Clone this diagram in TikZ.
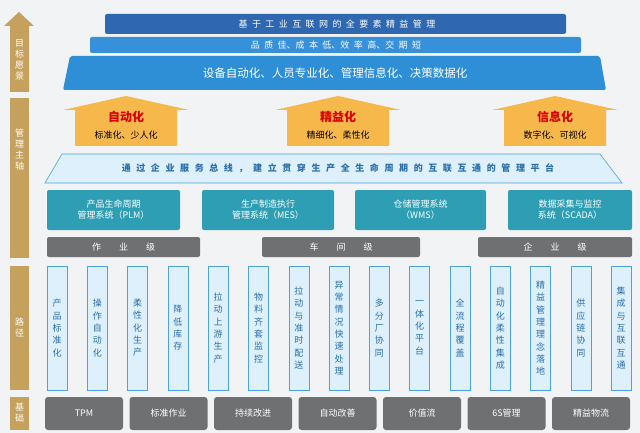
\documentclass[tikz,border=0pt]{standalone}
\usepackage{fontspec}
\setmainfont{Noto Sans CJK SC}
\usetikzlibrary{positioning}
\definecolor{bg}{HTML}{F2F3F5}
\definecolor{gold}{HTML}{C6A15E}
\definecolor{navy}{HTML}{2F68B0}
\definecolor{midblue}{HTML}{3790DA}
\definecolor{skyblue}{HTML}{2E8ED6}
\definecolor{orng}{HTML}{F6B84A}
\definecolor{paleblue}{HTML}{DDF0FB}
\definecolor{lineblue}{HTML}{4AA3DB}
\definecolor{txtblue}{HTML}{2B6FA8}
\definecolor{teal}{HTML}{2E9EB4}
\definecolor{slate}{HTML}{6F7072}
\tikzset{
  goldbar/.style={fill=gold,draw=none},
  sidetext/.style={text=white,font=\small,align=center,inner sep=0pt},
  sysbox/.style={fill=teal,rounded corners=2pt,text=white,font=\small,align=center,minimum height=40pt},
  levelbox/.style={fill=slate,rounded corners=2pt,text=white,font=\small,minimum height=20pt},
  pathbox/.style={fill=paleblue,draw=lineblue,line width=0.6pt,minimum width=20pt,minimum height=124pt,
                  text=txtblue,font=\small\linespread{1.12}\selectfont,align=center,inner sep=0pt},
  basebox/.style={fill=slate,rounded corners=3pt,text=white,font=\small,minimum width=78pt,minimum height=33pt},
}
\newcommand\gap{\hspace{4.4pt}}
\newcommand\busgap{\hspace{5.6pt}}
\begin{document}
\begin{tikzpicture}[x=1pt,y=-1pt]
\fill[bg] (0,0) rectangle (640,433);
\useasboundingbox (0,0) rectangle (640,433);
% left axis
\fill[goldbar] (4,26) -- (19,12) -- (34,26) -- (29,26) -- (29,92) -- (10,92) -- (10,26) -- cycle;
\node[sidetext] (goal) at (19.5,60) {目\\标\\愿\\景};
\fill[goldbar] (10,98) rectangle (29,258);
\node[sidetext] (axis) at (19.5,150) {管\\理\\主\\轴};
\fill[goldbar] (10,266) rectangle (29,390);
\node[sidetext] (path) at (19.5,328) {路\\径};
\fill[goldbar] (10,397) rectangle (29,430);
\node[sidetext] (base) at (19.5,413) {基\\础};
% vision layers
\fill[navy,rounded corners=2pt] (105,14) rectangle (566,34);
\node[text=white,font=\small] (top) at (337,24) {基\gap 于\gap 工\gap 业\gap 互\gap 联\gap 网\gap 的\gap 全\gap 要\gap 素\gap 精\gap 益\gap 管\gap 理};
\fill[midblue,rounded corners=2pt] (90,37) rectangle (581,53);
\node[text=white,font=\small] (mid) at (336,45) {品\gap 质\gap 佳、成\gap 本\gap 低、效\gap 率\gap 高、交\gap 期\gap 短};
\fill[skyblue,rounded corners=2pt] (70,56) -- (600,56) -- (606,90) -- (63,90) -- cycle;
\node[text=white,font=\fontsize{11.5}{13}\selectfont] (wide) at (335,73) {设备自动化、人员专业化、管理信息化、决策数据化};
% house arrows
\foreach \cx/\name/\title/\sub in {126/auto/自动化/{标准化、少人化}, 338/lean/精益化/{精细化、柔性化}, 555/info/信息化/{数字化、可视化}}{
  \fill[orng] (\cx-63,110) -- (\cx,96) -- (\cx+63,110) -- (\cx+51,110) -- (\cx+51,146) -- (\cx-51,146) -- (\cx-51,110) -- cycle;
  \node[text=red!85!black,font=\fontsize{12}{14}\selectfont\bfseries] (\name) at (\cx,117) {\title};
  \node[font=\small,below=1pt of \name] (\name-sub) {\sub};
}
% platform
\filldraw[fill=paleblue,draw=lineblue,line width=0.6pt] (62,154) -- (600,154) -- (622,183) -- (45,183) -- cycle;
\node[text=txtblue,font=\small\bfseries] (bus) at (338,168) {通\busgap 过\busgap 企\busgap 业\busgap 服\busgap 务\busgap 总\busgap 线\busgap ，\busgap 建\busgap 立\busgap 贯\busgap 穿\busgap 生\busgap 产\busgap 全\busgap 生\busgap 命\busgap 周\busgap 期\busgap 的\busgap 互\busgap 联\busgap 互\busgap 通\busgap 的\busgap 管\busgap 理\busgap 平\busgap 台};
% systems
\node[sysbox,minimum width=133pt] (plm) at (113.5,210) {产品生命周期\\管理系统（PLM）};
\node[sysbox,minimum width=132pt] (mes) at (268,210) {生产制造执行\\管理系统（MES）};
\node[sysbox,minimum width=131pt] (wms) at (420.5,210) {仓储管理系统\\（WMS）};
\node[sysbox,minimum width=124pt] (scada) at (570,210) {数据采集与监控\\系统（SCADA）};
% levels
\node[levelbox,minimum width=153pt] (op) at (123.5,247) {作\qquad 业\qquad 级};
\node[levelbox,minimum width=158pt] (shop) at (341,247) {车\qquad 间\qquad 级};
\node[levelbox,minimum width=154pt] (ent) at (555,247) {企\qquad 业\qquad 级};
% paths
\foreach \i/\txt in {0/{产\\品\\标\\准\\化}, 1/{操\\作\\自\\动\\化}, 2/{柔\\性\\化\\生\\产}, 3/{降\\低\\库\\存},
  4/{拉\\动\\上\\游\\生\\产}, 5/{物\\料\\齐\\套\\监\\控}, 6/{拉\\动\\与\\准\\时\\配\\送}, 7/{异\\常\\情\\况\\快\\速\\处\\理},
  8/{多\\分\\厂\\协\\同}, 9/{一\\体\\化\\平\\台}, 10/{全\\流\\程\\覆\\盖}, 11/{自\\动\\化\\柔\\性\\集\\成},
  12/{精\\益\\管\\理\\理\\念\\落\\地}, 13/{供\\应\\链\\协\\同}, 14/{集\\成\\与\\互\\联\\互\\通}}{
  \node[pathbox] (p\i) at (57+40.3*\i,328) {\txt};
}
% foundation
\foreach \i/\txt in {0/TPM, 1/标准作业, 2/持续改进, 3/自动改善, 4/价值流, 5/6S管理, 6/精益物流}{
  \node[basebox] (b\i) at (84+84.5*\i,413.5) {\txt};
}
\end{tikzpicture}
\end{document}
